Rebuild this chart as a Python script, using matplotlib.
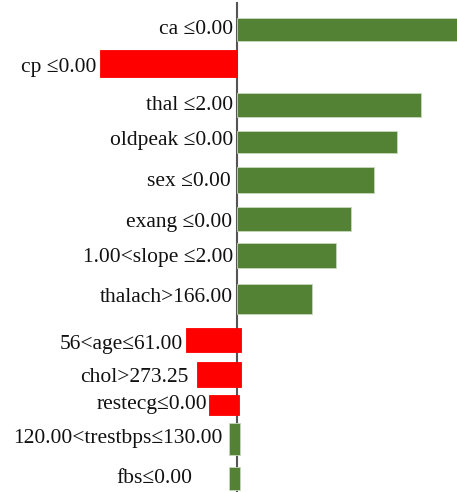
import matplotlib.pyplot as plt

labels = ["ca \u22640.00", "cp \u22640.00", "thal \u22642.00", "oldpeak \u22640.00",
          "sex \u22640.00", "exang \u22640.00", "1.00<slope \u22642.00",
          "thalach>166.00", "56<age\u226461.00", "chol>273.25",
          "restecg\u22640.00", "120.00<trestbps\u2264130.00", "fbs\u22640.00"]
weights = [0.230, -0.137, 0.184, 0.160, 0.137, 0.114, 0.099, 0.075,
           -0.055, -0.044, -0.030, 0.011, 0.011]
# baseline shift of the lower bars (they are drawn slightly off the axis line)
shift = [0, 0, 0, 0, 0, 0, 0, 0, 0.004, 0.004, 0.002, -0.008, -0.008]

# layout (pixel rows, label gaps)
row_y = [29.5, 63.5, 105, 142, 180, 219, 255.5, 299, 340, 374.5, 405, 439, 478.5]
row_h = [23, 27, 24, 22, 26, 24, 25, 30, 24, 25, 20, 32, 23]
text_dy = [0, 4, 0, -1, 2, 3, 2, -1, 5, 3, 0, -1, 0]
gap = [0.004, 0.004, 0.004, 0.004, 0.006, 0.005, 0.004, 0.004,
       0.003, 0.009, 0.002, 0.006, 0.037]

green = "#548235"
red = "#ff0000"

fig = plt.figure(figsize=(4.57, 4.92), dpi=100)
ax = fig.add_axes([0, 0, 1, 1])
ax.set_xlim(-0.237, 0.220)
ax.set_ylim(492, 0)
ax.axis("off")

ax.plot([0, 0], [3, 492], color="#555555", lw=1.5, zorder=1)

for i, (lab, w, s) in enumerate(zip(labels, weights, shift)):
    col = green if w > 0 else red
    ax.barh(row_y[i], w, height=row_h[i], left=s, color=col,
            edgecolor="#c8d8bc" if w > 0 else red, linewidth=0.6, zorder=2)
    left = min(s, s + w)
    ax.text(left - gap[i], row_y[i] + text_dy[i], lab, ha="right", va="center",
            fontsize=15.5, family="Liberation Serif", color="#111111")

fig.savefig("out.png", dpi=100)
